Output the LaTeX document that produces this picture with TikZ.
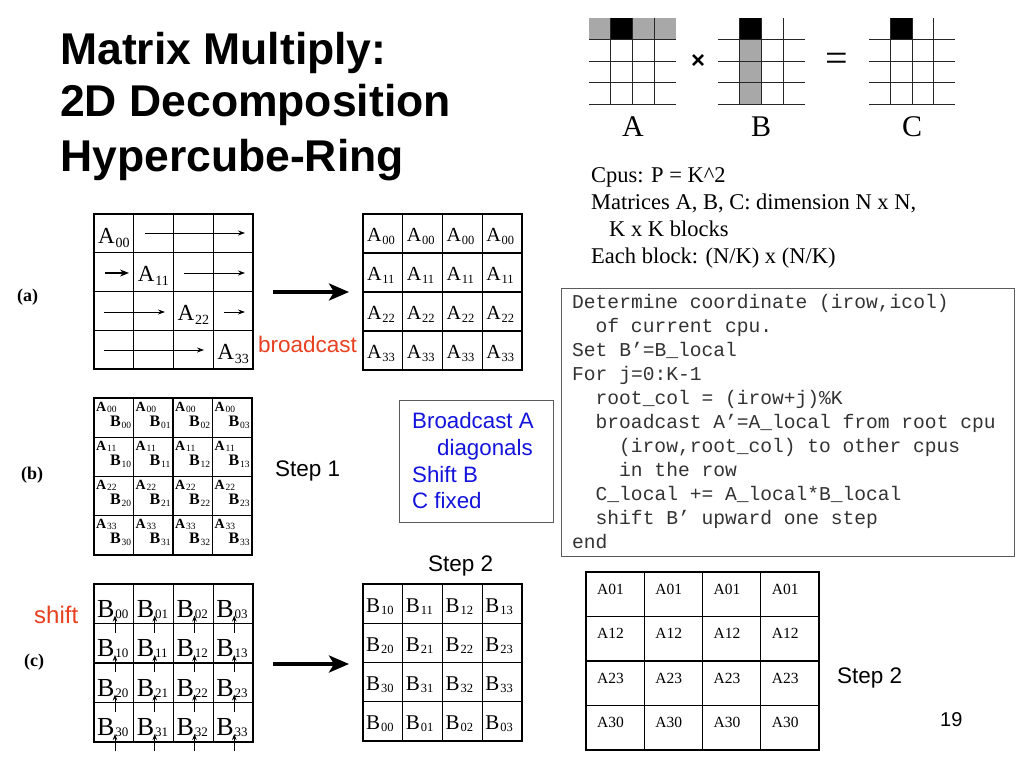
\documentclass[tikz,border=0pt]{standalone}
\usepackage{fontspec}
\setmainfont{Liberation Serif}
\setsansfont{Liberation Sans}
\setmonofont{Liberation Mono}
\usetikzlibrary{arrows.meta}

\definecolor{myred}{RGB}{232,64,32}
\definecolor{myblue}{RGB}{20,20,220}
\definecolor{mgray}{RGB}{168,168,168}
\definecolor{boxgray}{RGB}{90,90,90}

\newcommand\fs[1]{\fontsize{#1}{#1}\selectfont}
% size, letter, subscript, subscript size, drop
\newcommand\Lsub[5]{{\fs{#1}#2}\kern0.8pt\raisebox{-#5pt}{\fs{#4}#3}}
% x0 y0 x1 y1 : 4x4 grid
\newcommand\mygrid[4]{%
  \draw[gl] (#1,#2) rectangle (#3,#4);
  \foreach \i in {1,2,3}{%
    \draw[gl] ({#1+\i*(#3-#1)/4},#2) -- ({#1+\i*(#3-#1)/4},#4);
    \draw[gl] (#1,{#2+\i*(#4-#2)/4}) -- (#3,{#2+\i*(#4-#2)/4});
  }%
}

\tikzset{
  txt/.style={inner sep=0pt, anchor=base west},
  gl/.style={line width=1.1pt, draw=black},
  ml/.style={line width=0.9pt, draw=black!85},
  sarrow/.style={line width=0.8pt, -{Stealth[length=7pt,width=5pt]}},
  stubarrow/.style={line width=1.6pt, -{Stealth[length=9pt,width=7pt]}},
  varrow/.style={line width=0.8pt, -{Stealth[length=6pt,width=4.5pt]}},
  bigarrow/.style={line width=3.5pt, -{Stealth[length=20pt,width=17pt,inset=5pt]}},
  codeline/.style={txt, font=\ttfamily\fs{19.6}, text=black!80},
  cpusline/.style={txt, font=\fs{22.5}},
  bluetxt/.style={txt, font=\sffamily\fs{22.3}, text=myblue},
  steptxt/.style={txt, font=\sffamily\fs{22.5}},
  redtxt/.style={txt, font=\sffamily\fs{22.5}, text=myred},
  partlbl/.style={txt, font=\bfseries\fs{18}},
  titletxt/.style={txt, font=\sffamily\bfseries\fs{44.5}},
  tbltxt/.style={txt, font=\fs{15.5}}
}

\begin{document}
\begin{tikzpicture}[x=1pt,y=-1pt]
\useasboundingbox (0,0) rectangle (1024,768);
\fill[white] (0,0) rectangle (1024,768);

% ---------- title ----------
\node[titletxt] (t1) at (60,64) {Matrix Multiply:};
\node[titletxt] (t2) at (60,116) {2D Decomposition};
\node[titletxt] (t3) at (60,171) {Hypercube-Ring};

% ---------- top-right matrices ----------
\fill[mgray] (589,18) rectangle (676,39.5);
\fill[black] (610.75,18) rectangle (632.5,39.5);
\fill[mgray] (739.75,39.5) rectangle (761.5,104);
\fill[black] (739.75,18) rectangle (761.5,39.5);
\fill[black] (890.5,18) rectangle (912,39.5);
\foreach \xa/\xb in {589/676,718/805,869/955}{%
  \foreach \j in {1,2,3}{%
    \draw[ml] ({\xa+\j*(\xb-\xa)/4},18) -- ({\xa+\j*(\xb-\xa)/4},104);
  }
  \foreach \yy in {39.5,61,82.5,104}{%
    \draw[ml] (\xa,\yy) -- (\xb,\yy);
  }
}
\node[inner sep=0pt, font=\sffamily\bfseries\fs{24}] (times) at (698,62) {×};
\node[inner sep=0pt, font=\fs{40}] (eq) at (837,62) {=};
\node[inner sep=0pt, font=\fs{30}] (lA) at (633,127) {A};
\node[inner sep=0pt, font=\fs{30}] (lB) at (761,127) {B};
\node[inner sep=0pt, font=\fs{30}] (lC) at (912,127) {C};

% ---------- Cpus text ----------
\node[cpusline] (c1) at (591,182) {Cpus: P = K\^{}2};
\node[cpusline] (c2) at (591,209) {Matrices A, B, C: dimension N x N,};
\node[cpusline] (c3) at (609,236) {K x K blocks};
\node[cpusline] (c4) at (591,263) {Each block: (N/K) x (N/K)};

% ---------- code box ----------
\node[draw=boxgray, line width=1.2pt, minimum width=453pt, minimum height=268pt,
      anchor=north west, inner sep=0pt] (codebox) at (561,288) {};
\node[codeline] (k1) at (572,308) {Determine coordinate (irow,icol)};
\node[codeline] (k2) at (595.5,332) {of current cpu.};
\node[codeline] (k3) at (572,356) {Set B’=B\_local};
\node[codeline] (k4) at (572,380) {For j=0:K-1};
\node[codeline] (k5) at (595.5,404) {root\_col = (irow+j)\%K};
\node[codeline] (k6) at (595.5,428) {broadcast A’=A\_local from root cpu};
\node[codeline] (k7) at (619,452) {(irow,root\_col) to other cpus};
\node[codeline] (k8) at (619,476) {in the row};
\node[codeline] (k9) at (595.5,500) {C\_local += A\_local*B\_local};
\node[codeline] (k10) at (595.5,524) {shift B’ upward one step};
\node[codeline] (k11) at (572,548) {end};

% ---------- blue box ----------
\node[draw=boxgray, line width=1.2pt, minimum width=154pt, minimum height=122pt,
      anchor=north west, inner sep=0pt] (bluebox) at (399,400) {};
\node[bluetxt] (b1) at (412,428) {Broadcast A};
\node[bluetxt] (b2) at (437,455) {diagonals};
\node[bluetxt] (b3) at (412,482) {Shift B};
\node[bluetxt] (b4) at (412,508) {C fixed};

% ---------- part labels ----------
\node[partlbl] (pa) at (17,301) {(a)};
\node[partlbl] (pb) at (21,479) {(b)};
\node[partlbl] (pc) at (24,666) {(c)};

% ---------- grid (a) left ----------
\mygrid{94}{214}{253}{369}
\foreach \r in {0,...,3}{%
  \node[txt] (aL\r) at ({94+39.75*\r+4},{214+38.75*\r+29}) {\Lsub{23}{A}{\r\r}{14}{4}};
}
\draw[sarrow] (145,233) -- (245,233);
\draw[stubarrow] (105,273) -- (129,273);
\draw[sarrow] (184,273) -- (245,273);
\draw[sarrow] (104,312) -- (165,312);
\draw[sarrow] (224,312) -- (245,312);
\draw[sarrow] (104,350) -- (204,350);

\coordinate (ba1) at (273,292);
\coordinate (ba2) at (349,292);
\draw[bigarrow] (ba1) -- (ba2);
\node[redtxt] (bcast) at (258,352) {broadcast};

% ---------- grid (a) right ----------
\mygrid{363}{214}{522}{370}
\foreach \r in {0,...,3}{%
  \foreach \c in {0,...,3}{%
    \node[txt] (aR\r\c) at ({363+39.75*\c+4},{214+39*\r+27}) {\Lsub{20}{A}{\r\r}{12.5}{3}};
  }
}

% ---------- grid (b) ----------
\mygrid{94}{398}{252}{555}
\foreach \r in {0,...,3}{%
  \foreach \c in {0,...,3}{%
    \node[txt] (bA\r\c) at ({94+39.5*\c+2},{398+39.25*\r+13}) {\Lsub{14}{\bfseries A}{\r\r}{9.5}{1}};
    \node[txt] (bB\r\c) at ({94+39.5*\c+16},{398+39.25*\r+28}) {\Lsub{16}{\bfseries B}{\r\c}{9.5}{2}};
  }
}
\node[steptxt] (s1) at (275,476) {Step 1};
\node[steptxt] (s2) at (428,571) {Step 2};

% ---------- grid (c) left ----------
\mygrid{94}{584}{253}{742}
\foreach \r in {0,...,3}{%
  \foreach \c in {0,...,3}{%
    \node[txt] (cL\r\c) at ({94+39.75*\c+3},{584+39.5*\r+33}) {\Lsub{26}{B}{\r\c}{13}{1}};
    \coordinate (ct\r\c) at ({94+39.75*\c+21},{584+39.5*(\r+1)-8});
    \coordinate (cs\r\c) at ({94+39.75*\c+21},{584+39.5*(\r+1)+9});
    \draw[varrow] (cs\r\c) -- (ct\r\c);
  }
}
\node[redtxt, font=\sffamily\fs{24}] (shiftlbl) at (34,623) {shift};

\coordinate (bc1) at (273,664);
\coordinate (bc2) at (349,664);
\draw[bigarrow] (bc1) -- (bc2);

% ---------- grid (c) right ----------
\mygrid{363}{584}{522}{741}
\foreach \r/\s in {0/1,1/2,2/3,3/0}{%
  \foreach \c in {0,...,3}{%
    \node[txt] (cR\r\c) at ({363+39.75*\c+3},{584+39.25*\r+28}) {\Lsub{21}{B}{\s\c}{12.5}{2}};
  }
}

% ---------- table ----------
\mygrid{586}{572}{819}{750}
\foreach \r/\lab in {0/A01,1/A12,2/A23,3/A30}{%
  \foreach \c in {0,...,3}{%
    \node[tbltxt] (tb\r\c) at ({586+58.25*\c+11},{572+44.5*\r+22}) {\lab};
  }
}
\node[steptxt] (s3) at (837,683) {Step 2};
\node[txt, font=\sffamily\fs{20}] (pnum) at (940,726) {19};

\end{tikzpicture}
\end{document}
